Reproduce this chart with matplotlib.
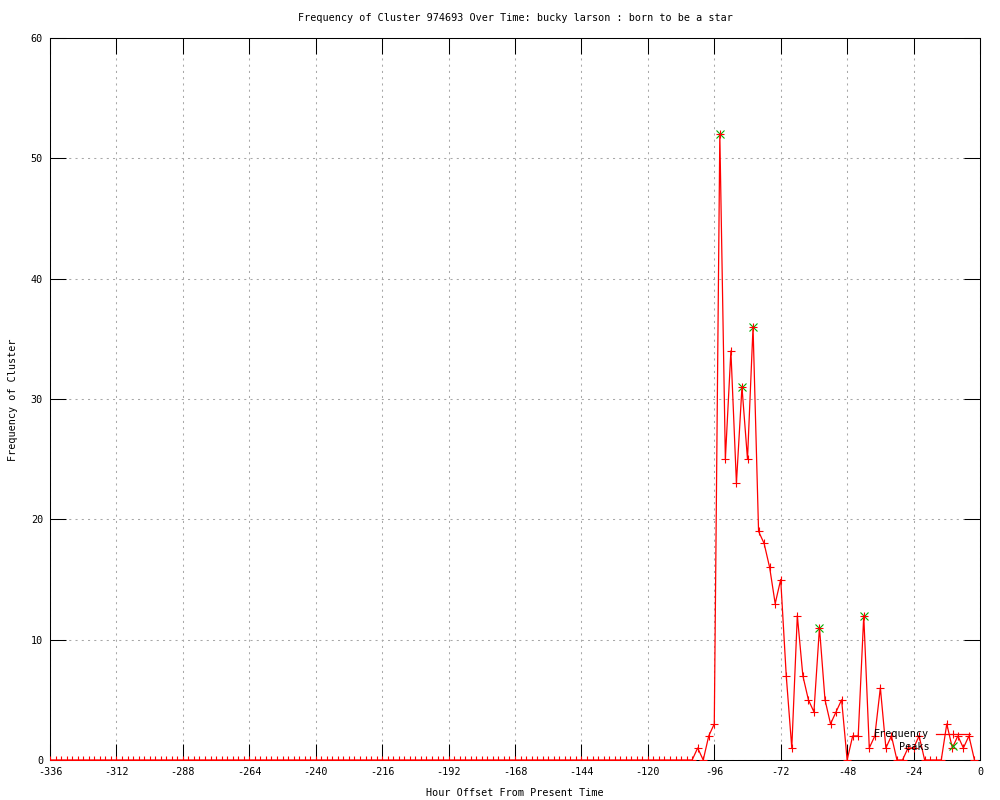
import matplotlib
matplotlib.use("Agg")
import matplotlib.pyplot as plt

# ---- data ----
hours = list(range(-336, 0, 2))
freq = [
    0, 0, 0, 0, 0, 0, 0, 0, 0, 0, 0, 0, 0, 0, 0, 0, 0, 0, 0, 0,
    0, 0, 0, 0, 0, 0, 0, 0, 0, 0, 0, 0, 0, 0, 0, 0, 0, 0, 0, 0,
    0, 0, 0, 0, 0, 0, 0, 0, 0, 0, 0, 0, 0, 0, 0, 0, 0, 0, 0, 0,
    0, 0, 0, 0, 0, 0, 0, 0, 0, 0, 0, 0, 0, 0, 0, 0, 0, 0, 0, 0,
    0, 0, 0, 0, 0, 0, 0, 0, 0, 0, 0, 0, 0, 0, 0, 0, 0, 0, 0, 0,
    0, 0, 0, 0, 0, 0, 0, 0, 0, 0, 0, 0, 0, 0, 0, 0, 0,
    1, 0, 2, 3, 52, 25, 34, 23, 31, 25, 36, 19, 18, 16, 13, 15, 7, 1, 12, 7,
    5, 4, 11, 5, 3, 4, 5, 0, 2, 2, 12, 1, 2, 6, 1, 2, 0, 0, 1, 1,
    2, 0, 0, 0, 0, 3, 1, 2, 1, 2, 0,
]
peak_hours = [-94, -86, -82, -58, -42]
peak_values = [52, 31, 36, 11, 12]

xtick_values = [-336, -312, -288, -264, -240, -216, -192, -168, -144, -120, -96, -72, -48, -24, 0]
xtick_labels = ["-336", "-312", "-288", "-264", "-240", "-216", "-192", "-168", "-144",
                "-120", "-96", "-72", "-48", "-24", "0"]
ytick_values = [0, 10, 20, 30, 40, 50, 60]
ytick_labels = ["0", "10", "20", "30", "40", "50", "60"]

title = "Frequency of Cluster 974693 Over Time: bucky larson : born to be a star"
xlabel = "Hour Offset From Present Time"
ylabel = "Frequency of Cluster"

# ---- figure ----
plt.rcParams['font.family'] = ['DejaVu Sans Mono']
FS = 7.3

fig = plt.figure(figsize=(10, 8), dpi=100)
ax = fig.add_axes([0.05, 0.05, 0.93, 0.9525 - 0.05])

ax.plot(peak_hours, peak_values, linestyle='none', marker='x', color='#00b000',
        markersize=5.5, markeredgewidth=0.8, label='Peaks', zorder=3)
ax.plot(hours, freq, color='#ff0000', linewidth=0.9, marker='+', markersize=5.5,
        markeredgewidth=0.8, label='Frequency', zorder=4)

ax.set_xlim(-336, 0)
ax.set_ylim(0, 60)
ax.set_xticks(xtick_values)
ax.set_xticklabels(xtick_labels)
ax.set_yticks(ytick_values)
ax.set_yticklabels(ytick_labels)

ax.tick_params(direction='in', length=11.5, width=0.75, top=True, right=True,
               labelsize=FS, pad=5, colors='black')
ax.grid(True, color='#a8a8a8', linestyle=(0, (2, 4)), linewidth=0.75)
for s in ax.spines.values():
    s.set_linewidth(0.75)
    s.set_color('black')

fig.text(0.515, 1 - 18 / 800, title, ha='center', va='center', fontsize=FS)
fig.text(0.515, 1 - 793 / 800, xlabel, ha='center', va='center', fontsize=FS)
fig.text(13 / 1000, 1 - 400 / 800, ylabel, ha='center', va='center', rotation=90, fontsize=FS)

handles, labels = ax.get_legend_handles_labels()
order = [1, 0]
leg = ax.legend([handles[i] for i in order], [labels[i] for i in order],
                loc='lower right', bbox_to_anchor=(0.989, 0.0115), frameon=False,
                markerfirst=False, numpoints=1, fontsize=FS, handlelength=3.3,
                handletextpad=0.7, labelspacing=0.25, borderpad=0, borderaxespad=0)

fig.savefig("out.png", dpi=100, facecolor='white')
